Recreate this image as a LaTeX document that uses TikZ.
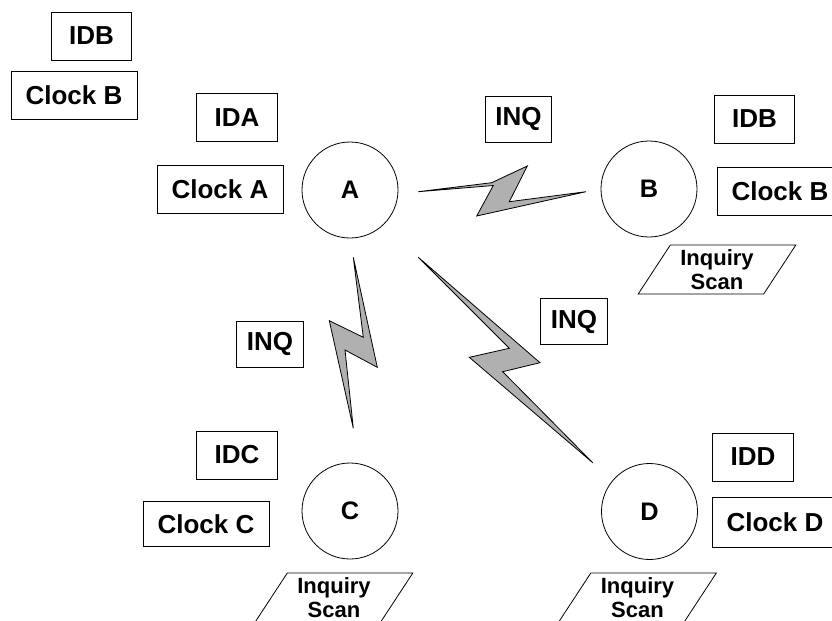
\documentclass[tikz,border=0pt]{standalone}
\usepackage{fontspec}
\setmainfont{Liberation Sans}
\usetikzlibrary{shapes.geometric}

\definecolor{boltgray}{RGB}{176,176,176}

\begin{document}
\begin{tikzpicture}[
    x=0.75pt,
    y=-0.75pt,
    tagbox/.style={
        draw,
        line width=0.6pt,
        inner sep=0pt,
        minimum height=36pt,
        font=\fontsize{19.5}{23}\selectfont\bfseries
    },
    idbox/.style={
        tagbox,
        minimum width=60.5pt
    },
    clockbox/.style={
        tagbox,
        minimum width=94.5pt
    },
    inqbox/.style={
        tagbox,
        minimum width=50pt,
        minimum height=34.5pt
    },
    station/.style={
        draw,
        circle,
        line width=0.6pt,
        inner sep=0pt,
        minimum size=72pt,
        font=\fontsize{19}{23}\selectfont\bfseries
    },
    scanbox/.style={
        draw,
        trapezium,
        trapezium left angle=58,
        trapezium right angle=122,
        trapezium stretches=true,
        line width=0.6pt,
        inner sep=0pt,
        minimum width=119pt,
        minimum height=36.75pt,
        align=center,
        font=\fontsize{16.5}{18.2}\selectfont\bfseries
    },
    bolt/.style={
        draw,
        line width=0.6pt,
        fill=boltgray,
        line join=miter
    }
]

\useasboundingbox (0,0) rectangle (832,621);
\clip (0,0) rectangle (832,621);

\node[idbox] (idbTop) at (91.5,36) {IDB};

\node[clockbox] (clkbTop) at (74,95) {Clock B};

\node[station] (stA) at (350,190) {A};

\node[idbox] (idA) at (237,117.5) {IDA};

\node[clockbox] (clkA) at (220,189.5) {Clock A};

\node[inqbox] (inqAB) at (518.5,119) {INQ};

\node[station] (stB) at (649,189) {B};

\node[idbox] (idB) at (754.5,119) {IDB};

\node[clockbox] (clkB) at (780,191.5) {Clock B};

\node[scanbox] (scanB) at (717,269.5) {Inquiry\\Scan};

\node[inqbox] (inqAD) at (574,321.5) {INQ};

\node[inqbox] (inqAC) at (270,344) {INQ};

\node[station] (stC) at (350,511) {C};

\node[idbox] (idC) at (237,455) {IDC};

\node[clockbox, minimum height=34pt] (clkC) at (206,524) {Clock C};

\node[scanbox] (scanC) at (334,597.5) {Inquiry\\Scan};

\node[station] (stD) at (649.5,511.5) {D};

\node[idbox] (idD) at (753,457) {IDD};

\node[clockbox, minimum height=37.5pt] (clkD) at (775,522) {Clock D};

\node[scanbox] (scanD) at (637.5,597.5) {Inquiry\\Scan};

\draw[bolt] (418.3,191.7) -- (491.7,182.7) -- (527.3,166) -- (509.3,201.7)
    -- (586,191.7) -- (476.7,216) -- (493.3,185.5) -- cycle;
\draw[bolt] (353.3,257.3) -- (363.3,337.3) -- (329.3,320.7) -- (353.3,428.3)
    -- (345,350) -- (377.3,367.3) -- cycle;
\draw[bolt] (418.3,257.3) -- (509.3,348.3) -- (469.3,357.3) -- (592.7,462.7)
    -- (502.7,371.7) -- (540,362.7) -- cycle;

\end{tikzpicture}
\end{document}
